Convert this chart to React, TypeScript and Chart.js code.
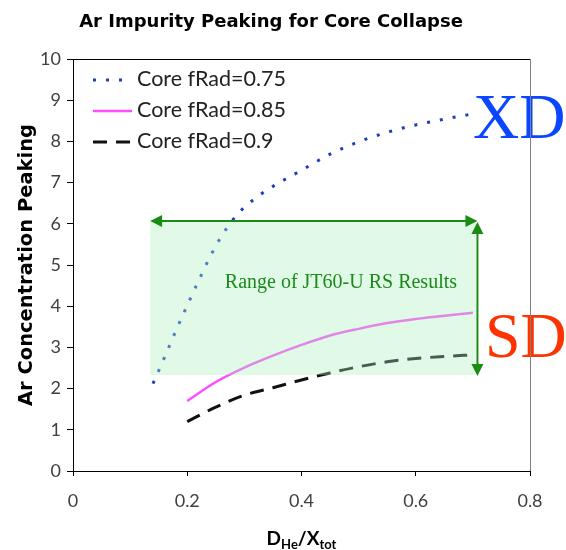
import React, { useEffect, useRef } from 'react';
import { Chart, registerables } from 'chart.js';
Chart.register(...registerables);

const titleText = 'Ar Impurity Peaking for Core Collapse';
const yTitleText = 'Ar Concentration Peaking';
const legendLabels = ['Core fRad=0.75', 'Core fRad=0.85', 'Core fRad=0.9'];
const xTickLabels = ['0', '0.2', '0.4', '0.6', '0.8'];
const yTickLabels = ['0', '1', '2', '3', '4', '5', '6', '7', '8', '9', '10'];

const blueX = [0.14, 0.16, 0.18, 0.2, 0.22, 0.24, 0.26, 0.28, 0.3, 0.33, 0.36, 0.4, 0.45, 0.5, 0.55, 0.6, 0.65, 0.7];
const blueY = [2.12, 2.75, 3.4, 4.02, 4.62, 5.2, 5.7, 6.1, 6.4, 6.73, 6.99, 7.3, 7.69, 7.99, 8.22, 8.4, 8.54, 8.67];
const pinkX = [0.2, 0.25, 0.3, 0.35, 0.4, 0.45, 0.5, 0.55, 0.6, 0.65, 0.7];
const pinkY = [1.7, 2.16, 2.51, 2.8, 3.06, 3.29, 3.45, 3.59, 3.69, 3.77, 3.84];
const blackX = [0.2, 0.25, 0.3, 0.35, 0.4, 0.45, 0.5, 0.55, 0.6, 0.65, 0.7];
const blackY = [1.2, 1.55, 1.84, 2.02, 2.21, 2.38, 2.53, 2.65, 2.73, 2.78, 2.82];

const rangeX = [0.135, 0.705];
const rangeY = [2.33, 6.05];
const arrowX = 0.708;
const arrowY = 6.07;
const rangeText = 'Range of JT60-U RS Results';
const rangeTextPos = [0.469, 4.5];
const xdText = 'XD';
const sdText = 'SD';

const colors = ['#1f3fbf', '#ff4dff', '#111111'];
const dashes = [[3, 10], [], [14, 9]];
const widths = [3, 2.5, 3];

function toPts(xs: number[], ys: number[]) {
  return xs.map((x, i) => ({ x, y: ys[i] }));
}

function arrowHead(ctx: CanvasRenderingContext2D, x: number, y: number, dx: number, dy: number) {
  const L = 12, W = 6;
  const px = -dy, py = dx;
  ctx.beginPath();
  ctx.moveTo(x, y);
  ctx.lineTo(x - dx * L + px * W, y - dy * L + py * W);
  ctx.lineTo(x - dx * L - px * W, y - dy * L - py * W);
  ctx.closePath();
  ctx.fill();
}

const overlay = {
  id: 'overlay',
  afterDatasetsDraw(chart: any) {
    const { ctx, scales } = chart;
    const xs = scales.x, ys = scales.y;
    ctx.save();
    const bx0 = xs.getPixelForValue(rangeX[0]);
    const bx1 = xs.getPixelForValue(rangeX[1]);
    const by0 = ys.getPixelForValue(rangeY[1]);
    const by1 = ys.getPixelForValue(rangeY[0]);
    ctx.fillStyle = 'rgba(170,240,185,0.35)';
    ctx.fillRect(bx0, by0, bx1 - bx0, by1 - by0);
    const ax = xs.getPixelForValue(arrowX);
    const ay = ys.getPixelForValue(arrowY);
    ctx.strokeStyle = '#1a8c14';
    ctx.fillStyle = '#1a8c14';
    ctx.lineWidth = 2;
    ctx.beginPath();
    ctx.moveTo(bx0 + 4, ay);
    ctx.lineTo(ax - 4, ay);
    ctx.stroke();
    arrowHead(ctx, bx0, ay, -1, 0);
    arrowHead(ctx, ax, ay, 1, 0);
    ctx.beginPath();
    ctx.moveTo(ax, ay + 4);
    ctx.lineTo(ax, by1 - 4);
    ctx.stroke();
    arrowHead(ctx, ax, ay + 1, 0, -1);
    arrowHead(ctx, ax, by1 + 1, 0, 1);
    ctx.fillStyle = '#1a8a1a';
    ctx.font = '20px "Liberation Serif"';
    ctx.textAlign = 'center';
    ctx.textBaseline = 'alphabetic';
    ctx.fillText(rangeText, xs.getPixelForValue(rangeTextPos[0]), 288);
    ctx.textAlign = 'left';
    ctx.font = '64px "Liberation Serif"';
    ctx.fillStyle = '#0a46ff';
    ctx.fillText(xdText, 473, 138);
    ctx.fillStyle = '#ff3300';
    ctx.fillText(sdText, 485, 357);
    ctx.restore();
  },
  afterDraw(chart: any) {
    const { ctx, chartArea } = chart;
    ctx.save();
    ctx.lineWidth = 1;
    ctx.strokeStyle = '#000';
    ctx.beginPath();
    ctx.moveTo(chartArea.left, chartArea.top + 0.5);
    ctx.lineTo(chartArea.right, chartArea.top + 0.5);
    ctx.stroke();
    ctx.strokeStyle = '#808080';
    ctx.beginPath();
    ctx.moveTo(chartArea.right + 0.5, chartArea.top);
    ctx.lineTo(chartArea.right + 0.5, chartArea.bottom);
    ctx.stroke();
    ctx.fillStyle = '#000';
    ctx.font = 'bold 18px "DejaVu Sans"';
    ctx.textAlign = 'center';
    ctx.textBaseline = 'alphabetic';
    ctx.fillText(titleText, 271, 27);
    ctx.save();
    ctx.translate(27, (chartArea.top + chartArea.bottom) / 2);
    ctx.rotate(-Math.PI / 2);
    ctx.font = 'bold 19.5px "DejaVu Sans"';
    ctx.textBaseline = 'middle';
    ctx.fillText(yTitleText, 0, 0);
    ctx.restore();
    const parts: [string, string, number][] = [
      ['D', 'bold 19px Lato', 0],
      ['He', 'bold 13px Lato', 4],
      ['/X', 'bold 19px Lato', 0],
      ['tot', 'bold 13px Lato', 4],
    ];
    let total = 0;
    for (const p of parts) { ctx.font = p[1]; total += ctx.measureText(p[0]).width; }
    let cx = (chartArea.left + chartArea.right) / 2 - total / 2;
    ctx.textAlign = 'left';
    for (const p of parts) {
      ctx.font = p[1];
      ctx.fillText(p[0], cx, 545 + p[2]);
      cx += ctx.measureText(p[0]).width;
    }
    const rows = [79, 110, 141];
    ctx.font = '21.5px Lato';
    ctx.textBaseline = 'middle';
    for (let i = 0; i < legendLabels.length; i++) {
      ctx.strokeStyle = colors[i];
      ctx.lineWidth = widths[i];
      ctx.setLineDash(dashes[i]);
      ctx.beginPath();
      ctx.moveTo(93, rows[i] + 1);
      ctx.lineTo(132, rows[i] + 1);
      ctx.stroke();
      ctx.setLineDash([]);
      ctx.fillStyle = '#222';
      ctx.fillText(legendLabels[i], 137, rows[i]);
    }
    ctx.restore();
  },
};

export default function App() {
  const ref = useRef<HTMLCanvasElement>(null);
  useEffect(() => {
    document.body.style.margin = '0';
    const chart = new Chart(ref.current!, {
      type: 'line',
      data: {
        datasets: [
          { label: legendLabels[0], data: toPts(blueX, blueY), borderColor: colors[0], borderWidth: widths[0], borderDash: dashes[0], pointRadius: 0, cubicInterpolationMode: 'monotone', fill: false },
          { label: legendLabels[1], data: toPts(pinkX, pinkY), borderColor: colors[1], borderWidth: widths[1], borderDash: dashes[1], pointRadius: 0, cubicInterpolationMode: 'monotone', fill: false },
          { label: legendLabels[2], data: toPts(blackX, blackY), borderColor: colors[2], borderWidth: widths[2], borderDash: dashes[2], pointRadius: 0, cubicInterpolationMode: 'monotone', fill: false },
        ],
      },
      options: {
        responsive: false,
        animation: false,
        devicePixelRatio: 1,
        layout: { padding: { top: 59, right: 36, left: 0, bottom: 0 } },
        plugins: { legend: { display: false }, title: { display: false }, tooltip: { enabled: false } },
        scales: {
          x: {
            type: 'linear', min: 0, max: 0.8,
            ticks: { stepSize: 0.2, color: '#404040', font: { family: 'Lato', size: 18 }, padding: 14, maxRotation: 0,
              callback: (_v: any, i: number) => xTickLabels[i] },
            grid: { drawOnChartArea: false, color: '#000', tickLength: 5 },
            border: { color: '#000', width: 1 },
            afterFit: (s: any) => { s.height = 79; },
          },
          y: {
            min: 0, max: 10,
            ticks: { stepSize: 1, color: '#404040', font: { family: 'Lato', size: 18 }, padding: 6,
              callback: (_v: any, i: number) => yTickLabels[i] },
            grid: { drawOnChartArea: false, color: '#000', tickLength: 6 },
            border: { color: '#000', width: 1 },
            afterFit: (s: any) => { s.width = 73; },
          },
        },
      },
      plugins: [overlay],
    } as any);
    return () => chart.destroy();
  }, []);
  return <canvas ref={ref} width={566} height={550} style={{ display: 'block' }} />;
}
